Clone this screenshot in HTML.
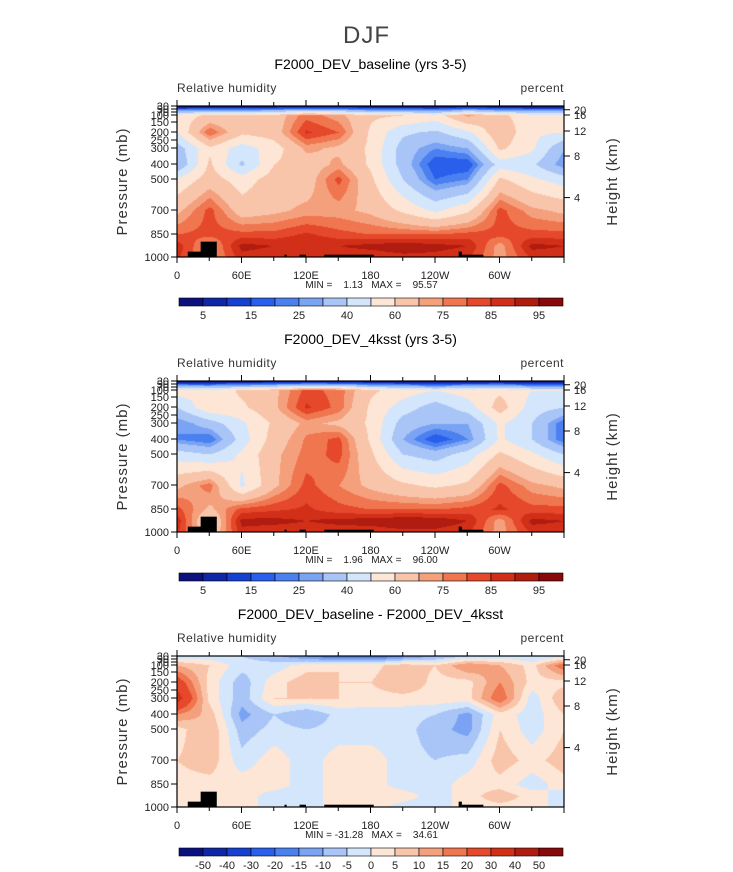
<!DOCTYPE html>
<html><head><meta charset="utf-8">
<style>
body{margin:0;width:733px;height:872px;background:#fff;position:relative;overflow:hidden;font-family:"Liberation Sans",sans-serif;color:#000}
.t{position:absolute;white-space:nowrap}
</style></head>
<body>
<div class="t" style="left:0;width:733px;text-align:center;top:22px;font-size:24px;color:#444;font-weight:100;letter-spacing:1px">DJF</div>
<svg id="svg" width="733" height="872" style="position:absolute;left:0;top:0"></svg>
<script>
// ---- data ----
const lons=[0,30,60,90,120,150,180,210,240,270,300,330,360];
const levels=[30,100,200,300,400,500,700,850,925,1000];
const rhBase=[
[3,3,3,3,3,3,3,3,3,3,3,3,3],
[55,62,62,65,78,72,62,60,55,72,62,55,55],
[50,80,62,65,86,80,58,42,38,48,68,52,50],
[35,58,45,55,72,68,58,35,25,30,62,52,30],
[30,62,38,60,65,72,58,35,15,15,45,42,25],
[52,65,55,65,65,82,62,40,20,25,62,52,45],
[68,82,65,68,72,72,68,58,48,58,82,72,68],
[80,82,82,82,86,82,80,80,80,82,82,82,82],
[88,72,92,90,90,90,92,94,92,90,72,92,90],
[86,72,88,86,86,86,86,88,88,86,72,86,86]];
const rh4k=[
[3,3,3,3,3,3,3,3,3,3,3,3,3],
[55,52,62,68,82,78,62,55,50,55,58,50,50],
[40,58,58,68,86,78,58,45,35,45,65,45,40],
[25,35,48,62,72,68,58,35,30,30,52,40,20],
[25,20,45,65,76,82,58,30,15,25,52,40,20],
[45,40,52,68,77,82,62,40,35,45,62,52,40],
[68,78,48,68,82,75,68,62,58,62,82,72,68],
[82,68,82,84,86,82,80,80,80,82,86,82,82],
[88,58,92,92,90,92,93,95,94,90,72,92,90],
[86,62,88,86,86,86,86,88,88,86,72,86,86]];
const rhDiff=[
[-3,-3,-5,-8,-15,-20,-20,-15,-10,-5,-3,-5,-3],
[10,5,-3,-3,3,5,3,8,5,15,10,3,20],
[25,3,-8,3,8,5,5,10,3,3,15,3,3],
[35,3,-8,5,5,5,3,3,3,3,20,-3,10],
[15,8,-12,-5,-10,-3,-3,-3,-5,-12,3,-3,5],
[3,10,-8,-3,-5,-3,-3,-3,-8,-12,5,-3,5],
[5,8,-3,3,-3,3,3,-3,-5,-3,8,3,8],
[3,3,3,3,-3,3,3,-3,-3,3,3,-3,3],
[3,3,3,-3,-3,3,3,3,-3,3,8,3,-3],
[3,3,3,-3,-3,3,3,-3,-3,3,3,3,-3]];
const rhBounds=[5,10,15,20,25,30,40,50,60,70,75,80,85,90,95];
const rhLabels=["5","15","25","40","60","75","85","95"];
const diffBounds=[-50,-40,-30,-20,-15,-10,-5,0,5,10,15,20,30,40,50];
const diffLabels=["-50","-40","-30","-20","-15","-10","-5","0","5","10","15","20","30","40","50"];
const terrain=[[10,25,965],[22,37,900],[100,102,985],[114,120,985],[137,183,985],[262,265,965],[265,285,985]];
const pTicks=[1000,850,700,500,400,300,250,200,150,100,70,50,30];
const hTicks=[20,16,12,8,4];
const hTickP=[55,100,195,350,620];
const lonTicks=[0,60,120,180,240,300];
const lonLabels=["0","60E","120E","180","120W","60W"];
const colors=["#0b1280","#0e27a6","#1640d2","#2a5fec","#4b80f0","#7aa3f4","#a9c5f7","#d4e6fb","#fde6d6","#f9c5aa","#f5a07d","#f07650","#e5482a","#d22f18","#b01c10","#870909"];
const panels=[
 {top:106,title:"F2000_DEV_baseline (yrs 3-5)",grid:rhBase,bounds:rhBounds,labels:rhLabels,mm:"MIN =    1.13   MAX =    95.57",every:2},
 {top:381,title:"F2000_DEV_4ksst (yrs 3-5)",grid:rh4k,bounds:rhBounds,labels:rhLabels,mm:"MIN =    1.96   MAX =    96.00",every:2},
 {top:656,title:"F2000_DEV_baseline - F2000_DEV_4ksst",grid:rhDiff,bounds:diffBounds,labels:diffLabels,mm:"MIN = -31.28   MAX =    34.61",every:1}];
// ---- axes ----
const X0=177,W=387,H=151;
const pMapP=[1000,850,700,500,400,300,250,200,150,100,70,50,30];
const pMapY=[151,128,104,73,58,42,34,26,16,9,6,3,0];
function yOfP(p){for(let i=0;i<pMapP.length-1;i++){if(p<=pMapP[i]&&p>=pMapP[i+1]){const f=(pMapP[i]-p)/(pMapP[i]-pMapP[i+1]);return pMapY[i]+f*(pMapY[i+1]-pMapY[i]);}}return p>1000?151:0;}
function xOfLon(l){return l/360*W;}
function colorOf(v,b){let i=0;while(i<b.length&&v>=b[i])i++;return colors[i];}
const NS="http://www.w3.org/2000/svg";
const svg=document.getElementById('svg');
function mk(tag,a,parent){const e=document.createElementNS(NS,tag);for(const k in a)e.setAttribute(k,a[k]);(parent||svg).appendChild(e);return e;}
function txt(parent,x,y,s,size,anchor,extra){const e=mk('text',Object.assign({x:x,y:y,'font-size':size,'text-anchor':anchor||'start','font-family':'Liberation Sans, sans-serif'},extra||{}),parent);e.textContent=s;return e;}
panels.forEach((P,pi)=>{
  const T=P.top;
  const cv=document.createElement('canvas');cv.width=W;cv.height=H;
  cv.style.cssText=`position:absolute;left:${X0}px;top:${T}px`;
  
  
  document.body.insertBefore(cv,svg);
  const ctx=cv.getContext('2d');
  const rowY=levels.map(yOfP);
  for(let py=0;py<H;py++){
    let r=0;while(r<rowY.length-2&&py>rowY[r+1])r++;
    const fy=Math.min(1,Math.max(0,(py-rowY[r])/(rowY[r+1]-rowY[r]||1)));
    let prev=null,start=0;
    for(let px=0;px<=W;px++){
      let c=null;
      if(px<W){const lon=px/W*360;let k=Math.min(11,Math.floor(lon/30));const fx=(lon-lons[k])/30;
        const g=P.grid;const v=(g[r][k]*(1-fx)+g[r][k+1]*fx)*(1-fy)+(g[r+1][k]*(1-fx)+g[r+1][k+1]*fx)*fy;
        c=colorOf(v,P.bounds);}
      if(c!==prev){if(prev){ctx.fillStyle=prev;ctx.fillRect(start,py,px-start,1);}prev=c;start=px;}
    }
  }
  const g=mk('g',{transform:`translate(${X0},${T})`});
  
  
  terrain.forEach(tr=>{const y=yOfP(tr[2]);const r=mk('rect',{x:xOfLon(tr[0]),y:y,width:xOfLon(tr[1])-xOfLon(tr[0]),height:H-y,fill:'#000'},g);
    
    });
  mk('rect',{x:0,y:0,width:W,height:H,fill:'none',stroke:'#000','stroke-width':1.2},g);
  for(let l=0;l<=360;l+=30){const x=xOfLon(l);const len=l%60==0?6:4;
    mk('line',{x1:x,y1:H,x2:x,y2:H+len,stroke:'#000'},g);mk('line',{x1:x,y1:0,x2:x,y2:-len,stroke:'#000'},g);}
  lonTicks.forEach((l,i)=>{const t=txt(g,xOfLon(l),H+22,lonLabels[i],11,'middle',{fill:'#222'});
    
    });
  pTicks.forEach(p=>{const y=yOfP(p);mk('line',{x1:0,y1:y,x2:-6,y2:y,stroke:'#000'},g);
    const t=txt(g,-8,y+4,String(p),11,'end',{fill:'#222'});
    
    });
  hTicks.forEach((h,i)=>{const y=yOfP(hTickP[i]);mk('line',{x1:W,y1:y,x2:W+6,y2:y,stroke:'#000'},g);
    const t=txt(g,W+10,y+4,String(h),11,'start',{fill:'#222'});
    
    });
  let t=txt(g,-50,H/2,'Pressure (mb)',15,'middle',{transform:`rotate(-90 -50 ${H/2})`,fill:'#333','letter-spacing':'1'});
  
  
  t=txt(g,W+53,H/2,'Height (km)',15,'middle',{transform:`rotate(-90 ${W+53} ${H/2})`,fill:'#333','letter-spacing':'1'});
  
  
  t=txt(g,W/2,-37,P.title,14,'middle');
  
  
  t=txt(g,0,-14,'Relative humidity',12,'start',{fill:'#333','letter-spacing':'0.5'});
  
  
  t=txt(g,W,-14,'percent',12,'end',{fill:'#333','letter-spacing':'0.5'});
  
  
  t=txt(g,W/2+1,H+31,P.mm,10,'middle',{fill:'#222',style:'white-space:pre'});
  
  
  const cb=mk('g',{transform:`translate(179,${T+192})`});
  
  
  const bw=384/colors.length;
  colors.forEach((c,i)=>mk('rect',{x:i*bw,y:0,width:bw,height:8,fill:c,stroke:'#000','stroke-width':0.6},cb));
  P.labels.forEach((s,i)=>{const bi=(i*P.every)+1;const tt=txt(cb,bi*bw,21,s,11,'middle',{fill:'#222'});
    
    });
});
</script>
</body></html>
